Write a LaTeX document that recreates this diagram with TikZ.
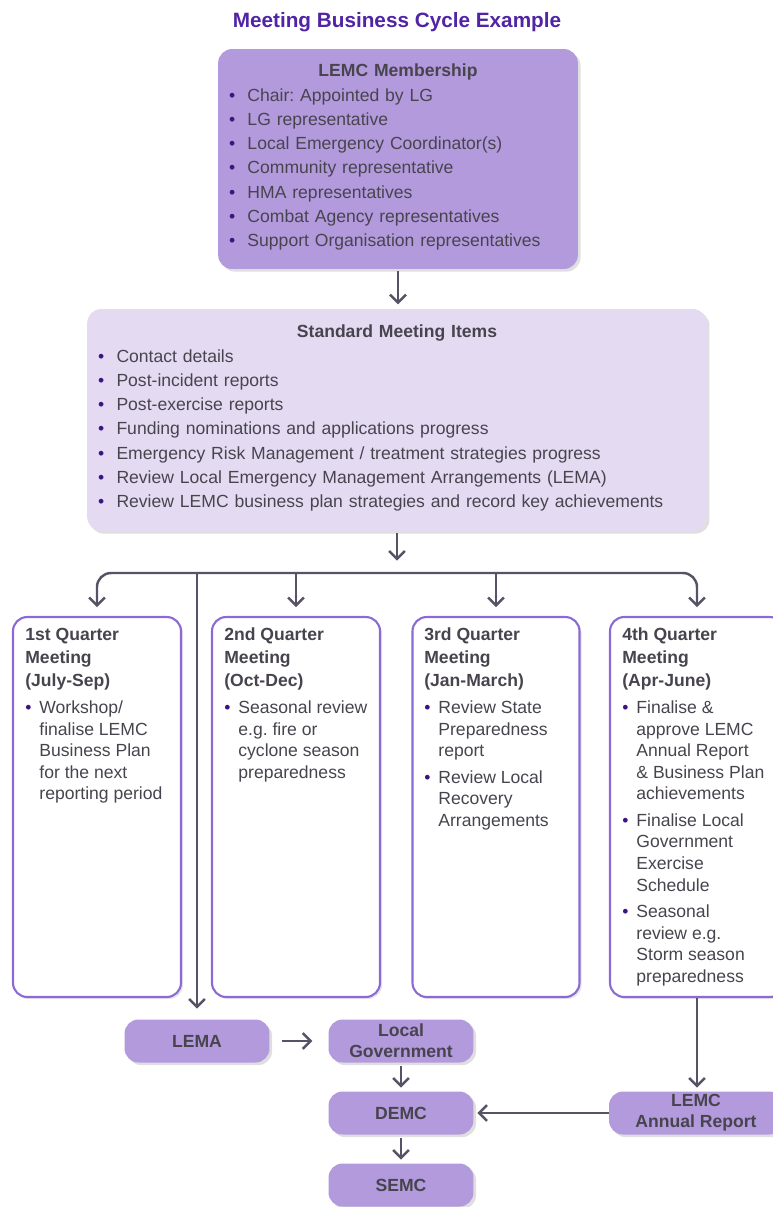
\documentclass[tikz,border=0pt]{standalone}
\usepackage{fontspec}
\setmainfont{Liberation Sans}
\usetikzlibrary{positioning}
\usetikzlibrary{arrows.meta}
\usetikzlibrary{shadows}
\frenchspacing
\definecolor{purpfill}{RGB}{178,154,221}
\definecolor{lavfill}{RGB}{228,219,242}
\definecolor{qborder}{RGB}{139,106,214}
\definecolor{arrowc}{RGB}{88,82,102}
\definecolor{titlec}{RGB}{80,36,165}
\definecolor{textc}{RGB}{72,68,78}
\definecolor{bulc}{RGB}{60,20,130}
\newcommand{\bul}{\textcolor{bulc}{\textbullet}}
\newcommand{\qhead}[1]{\multicolumn{2}{@{}l@{}}{\bfseries #1}}
\tikzset{
    boxp/.style = {rectangle, rounded corners=8pt, fill=purpfill, draw=none, text=textc, drop shadow={opacity=0.25,shadow xshift=1.5pt,shadow yshift=-1.5pt}},
    boxl/.style = {rectangle, rounded corners=8pt, fill=lavfill, draw=none, text=textc, drop shadow={opacity=0.25,shadow xshift=1.5pt,shadow yshift=-1.5pt}},
    boxq/.style = {rectangle, rounded corners=8pt, fill=white, draw=qborder, line width=1.2pt, minimum height=7.6cm, drop shadow={opacity=0.2,shadow xshift=1.2pt,shadow yshift=-1.2pt}},
    boxs/.style = {boxp, minimum width=2.9cm, minimum height=0.86cm, align=center, inner sep=1pt, font=\fontsize{10}{12}\selectfont\bfseries},
    txtq/.style = {anchor=north west, inner sep=0pt, text=textc, font=\fontsize{10}{12.3}\selectfont},
    edgea/.style = {-{Straight Barb[length=4.5pt,width=9pt]}, line width=1.4pt, arrowc}
}

\begin{document}
\begin{tikzpicture}[x=0.02cm, y=-0.02cm, font=\fontsize{10}{13.8}\selectfont]
  \useasboundingbox (0,0) rectangle (773,1207);
  \node[font=\fontsize{11.8}{14}\selectfont\bfseries, text=titlec] (title) at (397,22) {Meeting Business Cycle Example};
  % top boxes
  \node[boxp, text width=6.76cm, inner xsep=6.2pt, minimum height=4.4cm] (lemc) at (398,159) {%
    \noindent\centering\textbf{LEMC Membership}\par\vspace{1pt}\raggedright\noindent
    \begin{tabular}{@{}l@{\hspace{7pt}}l@{}}
      \bul & Chair: Appointed by LG\\
      \bul & LG representative\\
      \bul & Local Emergency Coordinator(s)\\
      \bul & Community representative\\
      \bul & HMA representatives\\
      \bul & Combat Agency representatives\\
      \bul & Support Organisation representatives
    \end{tabular}};
  \node[boxl, text width=11.96cm, inner xsep=6.2pt, minimum height=4.44cm] (smi) at (397,420) {%
    \noindent\centering\textbf{Standard Meeting Items}\par\vspace{1pt}\raggedright\noindent
    \begin{tabular}{@{}l@{\hspace{7pt}}l@{}}
      \bul & Contact details\\
      \bul & Post-incident reports\\
      \bul & Post-exercise reports\\
      \bul & Funding nominations and applications progress\\
      \bul & Emergency Risk Management / treatment strategies progress\\
      \bul & Review Local Emergency Management Arrangements (LEMA)\\
      \bul & Review LEMC business plan strategies and record key achievements
    \end{tabular}};
  % quarter boxes
  \node[boxq, minimum width=3.36cm] (q1) at (97,807) {};
  \node[boxq, minimum width=3.36cm] (q2) at (296,807) {};
  \node[boxq, minimum width=3.34cm] (q3) at (496,807) {};
  \node[boxq, minimum width=3.48cm] (q4) at (697,807) {};
  \node[txtq] (q1t) at (25,625) {\begin{tabular}{@{}l@{\hspace{4.5pt}}l@{}}
      \qhead{1st Quarter}\\[0.8pt] \qhead{Meeting}\\[0.8pt] \qhead{(July-Sep)}\\[3pt]
      \bul & Workshop/\\ & finalise LEMC\\ & Business Plan\\ & for the next\\ & reporting period
    \end{tabular}};
  \node[txtq] (q2t) at (224,625) {\begin{tabular}{@{}l@{\hspace{4.5pt}}l@{}}
      \qhead{2nd Quarter}\\[0.8pt] \qhead{Meeting}\\[0.8pt] \qhead{(Oct-Dec)}\\[3pt]
      \bul & Seasonal review\\ & e.g. fire or\\ & cyclone season\\ & preparedness
    \end{tabular}};
  \node[txtq] (q3t) at (424,625) {\begin{tabular}{@{}l@{\hspace{4.5pt}}l@{}}
      \qhead{3rd Quarter}\\[0.8pt] \qhead{Meeting}\\[0.8pt] \qhead{(Jan-March)}\\[3pt]
      \bul & Review State\\ & Preparedness\\ & report\\[2.8pt]
      \bul & Review Local\\ & Recovery\\ & Arrangements
    \end{tabular}};
  \node[txtq] (q4t) at (622,625) {\begin{tabular}{@{}l@{\hspace{4.5pt}}l@{}}
      \qhead{4th Quarter}\\[0.8pt] \qhead{Meeting}\\[0.8pt] \qhead{(Apr-June)}\\[3pt]
      \bul & Finalise \&\\ & approve LEMC\\ & Annual Report\\ & \& Business Plan\\ & achievements\\[2.8pt]
      \bul & Finalise Local\\ & Government\\ & Exercise\\ & Schedule\\[2.8pt]
      \bul & Seasonal\\ & review e.g.\\ & Storm season\\ & preparedness
    \end{tabular}};
  % bottom boxes
  \node[boxs] (lema) at (197,1041) {LEMA};
  \node[boxs] (lg) at (401,1041) {Local\\Government};
  \node[boxs] (demc) at (401,1113) {DEMC};
  \node[boxs] (semc) at (401,1185) {SEMC};
  \node[boxs, minimum width=3.48cm] (lar) at (696,1113) {LEMC\\Annual Report};
  % connectors
  \coordinate (bar) at (397,573);
  \draw[edgea, shorten <=1pt, shorten >=2.5pt] (lemc.south) -- (lemc.south |- smi.north);
  \draw[edgea, shorten <=1pt, shorten >=7pt] (smi.south) -- (bar);
  \draw[edgea, rounded corners=8pt, shorten >=5pt] (bar) -| (q1.north);
  \draw[edgea, rounded corners=8pt, shorten >=5pt] (bar) -| (q4.north);
  \draw[edgea, shorten >=5pt] (bar -| q2.north) -- (q2.north);
  \draw[edgea, shorten >=5pt] (bar -| q3.north) -- (q3.north);
  \draw[edgea, shorten >=6pt] (bar -| lema.north) -- (lema.north);
  \draw[edgea, shorten <=7pt, shorten >=9pt] (lema) -- (lg);
  \draw[edgea, shorten <=2pt, shorten >=2pt] (lg) -- (demc);
  \draw[edgea, shorten <=2pt, shorten >=2pt] (demc) -- (semc);
  \draw[edgea, shorten >=2pt] (lar) -- (demc);
  \draw[edgea, shorten >=2pt] (q4.south) -- (q4.south |- lar.north);
\end{tikzpicture}
\end{document}
